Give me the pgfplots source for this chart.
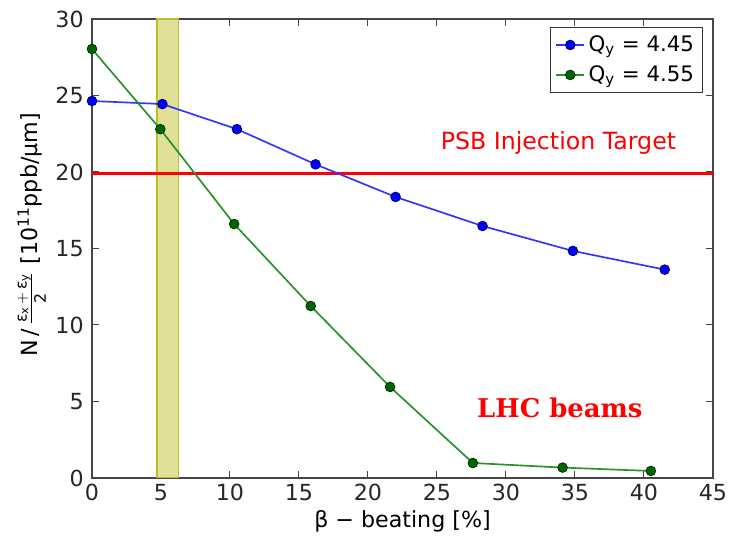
\documentclass[border=0pt]{standalone}
\usepackage{pgfplots}
\pgfplotsset{compat=1.18}
\usepackage{fontspec}
\setmainfont{DejaVu Sans}
\newfontfamily\serifb{DejaVu Serif}
\definecolor{bandfill}{RGB}{224,224,152}
\definecolor{bandedge}{RGB}{190,190,40}
\definecolor{mgreen}{RGB}{0,128,0}
\definecolor{axgray}{RGB}{70,70,70}
\begin{document}
\begin{tikzpicture}
\useasboundingbox (-55.2pt,-39pt) rectangle (384pt,286.8pt);
\begin{axis}[
  at={(0,0)}, anchor=south west,
  scale only axis,
  width=372.6pt, height=275.4pt,
  xmin=0, xmax=45, ymin=0, ymax=30,
  xtick={0,5,...,45}, ytick={0,5,...,30},
  tick align=inside, tick pos=both,
  major tick length=4pt,
  axis line style={axgray, line width=0.8pt},
  every tick/.style={axgray, line width=0.6pt},
  tick label style={font=\fontsize{13.3}{15}\selectfont, text=black!85},
  yticklabel style={xshift=-1.5pt},
  /pgf/number format/assume math mode=true,
  xlabel={β − beating [\%]},
  xlabel style={font=\fontsize{13.3}{15}\selectfont, yshift=1pt},
  ylabel={N\,/\,$\frac{\mbox{\fontsize{9.5}{10}\selectfont ε}_{\mbox{\fontsize{6.8}{7}\selectfont x}}\,+\,\mbox{\fontsize{9.5}{10}\selectfont ε}_{\mbox{\fontsize{6.8}{7}\selectfont y}}}{\mbox{\fontsize{9.5}{10}\selectfont 2}}$ [10\textsuperscript{11}ppb/μm]},
  ylabel style={font=\fontsize{13.3}{15}\selectfont, at={(axis description cs:-0.097,0.53)}, anchor=center},
  legend style={font=\fontsize{12.8}{15}\selectfont, draw=black!80, line width=0.8pt, inner sep=3pt, row sep=3pt, at={(0.984,0.983)}, anchor=north east},
  legend cell align=left,
]
\addplot[draw=bandedge, fill=bandfill, line width=0.8pt, forget plot] coordinates {(4.7,0) (6.25,0) (6.25,30) (4.7,30)} -- cycle;
\addplot[red, line width=1.8pt, forget plot] coordinates {(0,19.87) (45,19.87)};
\addplot[blue!80, line width=1pt, mark=*, mark size=2.9pt, mark options={fill=blue, draw=blue!40!black, line width=0.5pt}] coordinates {
(0,24.64) (5.1,24.44) (10.5,22.8) (16.2,20.5) (22.0,18.37) (28.3,16.47) (34.85,14.84) (41.5,13.62)};
\addlegendentry{Q\textsubscript{y} = 4.45}
\addplot[mgreen!85!white, line width=1pt, mark=*, mark size=2.9pt, mark options={fill=mgreen!80!black, draw=mgreen!40!black, line width=0.5pt}] coordinates {
(0,28.04) (4.95,22.8) (10.3,16.6) (15.85,11.24) (21.6,5.95) (27.6,0.98) (34.1,0.68) (40.5,0.46)};
\addlegendentry{Q\textsubscript{y} = 4.55}
\node[text=red, font=\fontsize{14.2}{16}\selectfont] at (axis cs:33.8,21.9) {PSB Injection Target};
\node[text=red, font=\serifb\bfseries\fontsize{15.5}{18}\selectfont] at (axis cs:33.9,4.6) {LHC beams};
\end{axis}
\end{tikzpicture}
\end{document}
